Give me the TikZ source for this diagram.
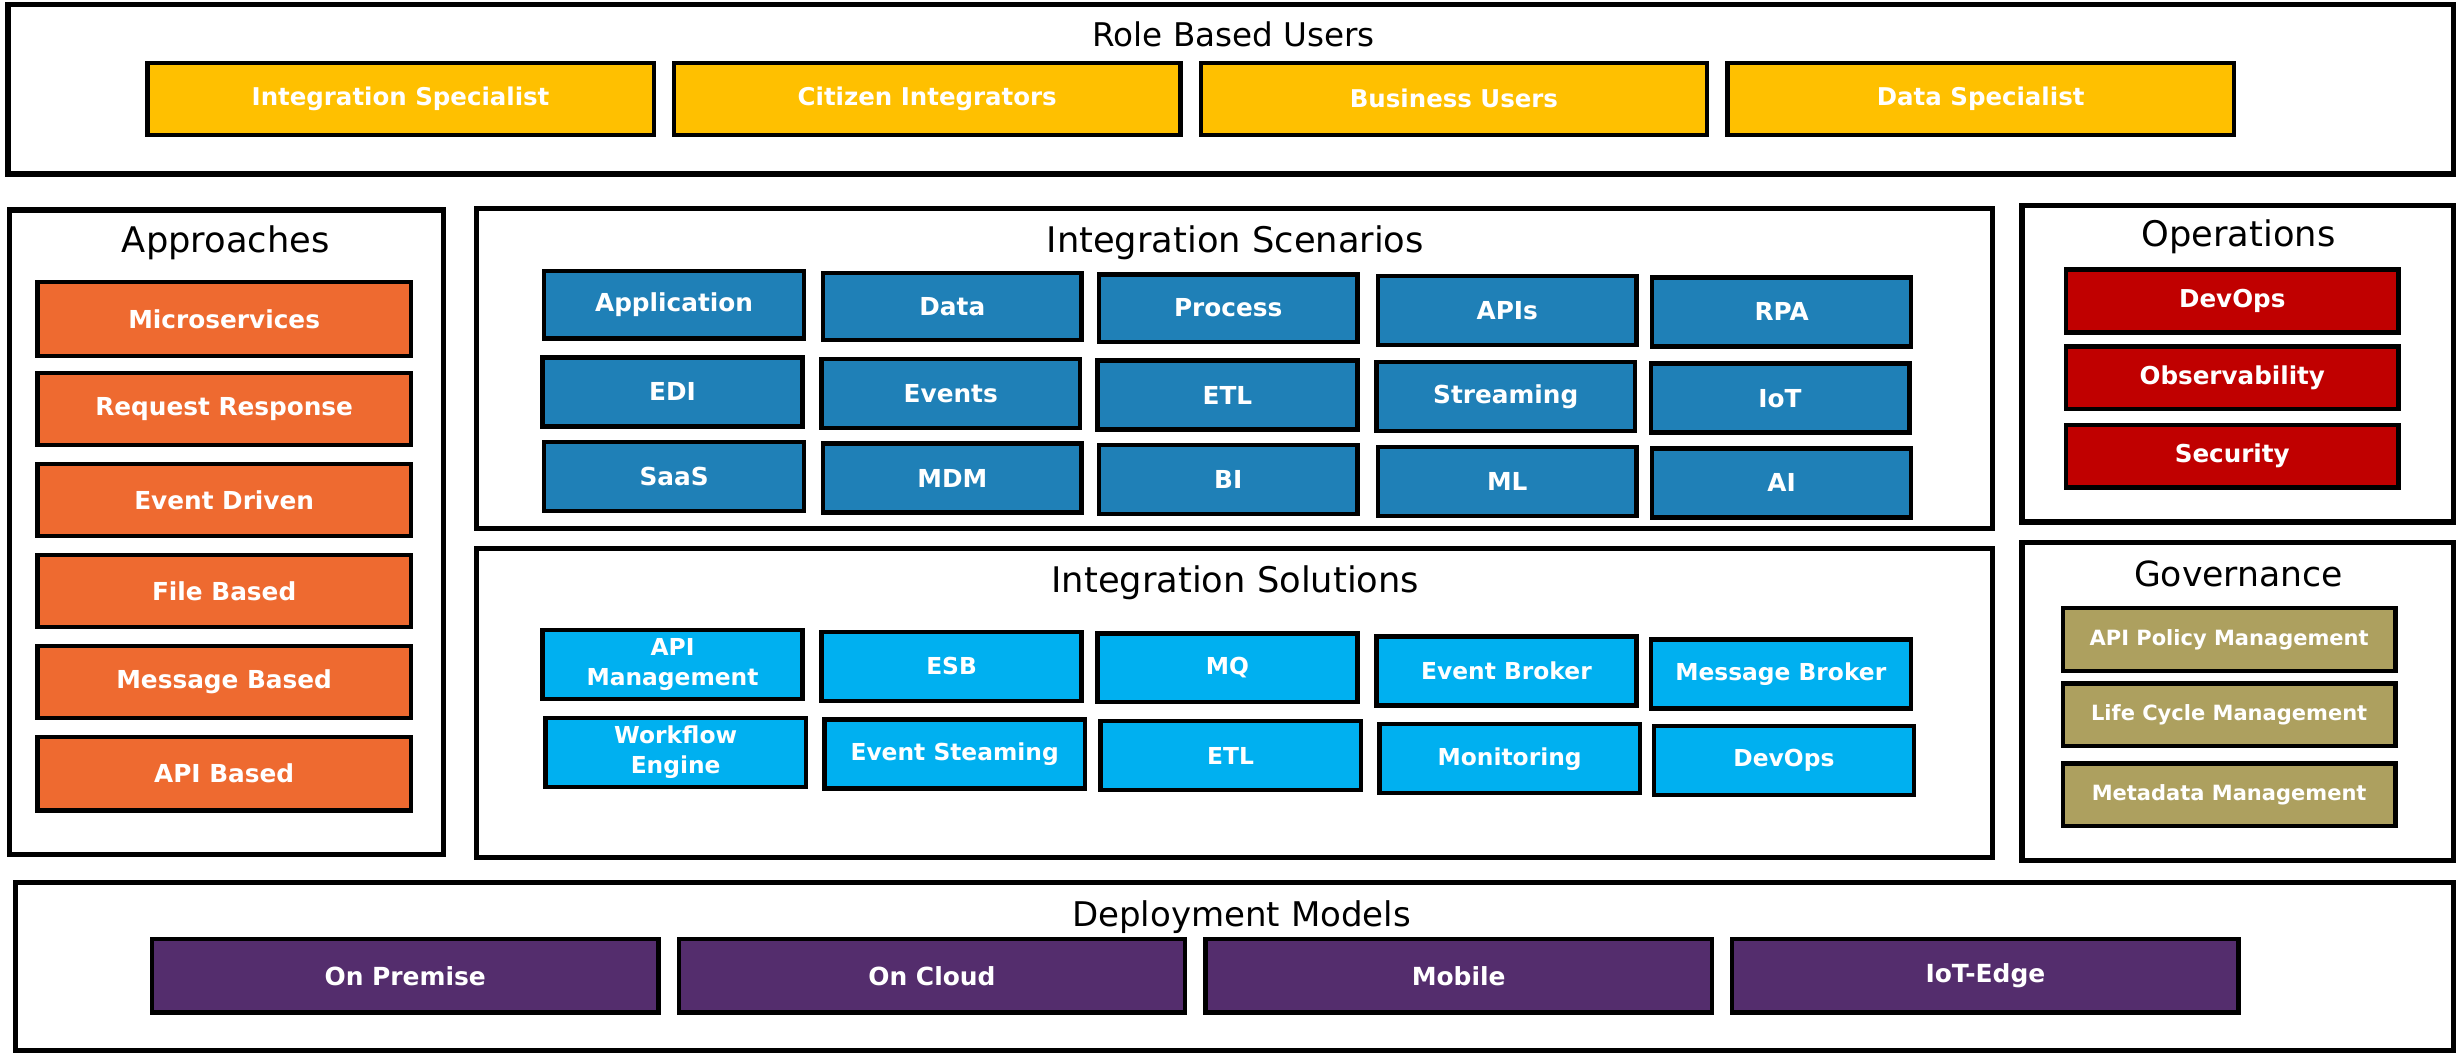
\documentclass[tikz,border=0pt]{standalone}
\usepackage{fontspec}
\setmainfont{DejaVu Sans}
\definecolor{cyell}{HTML}{FFC000}
\definecolor{corange}{HTML}{EE6A30}
\definecolor{cblue}{HTML}{1F80B7}
\definecolor{ccyan}{HTML}{00B0F0}
\definecolor{cred}{HTML}{C00000}
\definecolor{colive}{HTML}{ADA05F}
\definecolor{cpurple}{HTML}{542D6D}
\newcommand\mybox[7]{%
  \pgfmathsetmacro\mbw{#5-#3}%
  \pgfmathsetmacro\mbh{#6-#4}%
  \node[#1, minimum width=\mbw pt, minimum height=\mbh pt] (#2) at ({(#3+#5)/2},{(#4+#6)/2}) {#7};}
\tikzset{
  panel/.style={draw=black, line width=3.5pt, fill=white, inner sep=0pt},
  ttl/.style={font=\fontsize{22.5}{24}\selectfont, text=black, inner sep=0pt},
  item/.style={draw=black, line width=2.8pt, inner sep=0pt, text=white, align=center},
  yel/.style={item, fill=cyell, font=\fontsize{15.6}{18}\selectfont\bfseries},
  ora/.style={item, fill=corange, font=\fontsize{15.8}{18}\selectfont\bfseries},
  blu/.style={item, fill=cblue, font=\fontsize{15.8}{18}\selectfont\bfseries},
  cya/.style={item, fill=ccyan, font=\fontsize{14.9}{19}\selectfont\bfseries},
  redb/.style={item, fill=cred, font=\fontsize{15.7}{18}\selectfont\bfseries},
  oli/.style={item, fill=colive, font=\fontsize{13.4}{16}\selectfont\bfseries},
  pur/.style={item, fill=cpurple, font=\fontsize{15.9}{18}\selectfont\bfseries},
}
\begin{document}
\begin{tikzpicture}[x=1pt,y=-1pt]
\useasboundingbox[fill=white] (0,0) rectangle (1568,672);
% panels
\mybox{panel}{roles}{5}{3}{1565}{111}{}
\mybox{panel}{appr}{6}{134}{283}{545}{}
\mybox{panel}{scen}{304}{133}{1271}{337}{}
\mybox{panel}{sol}{304}{350}{1271}{547}{}
\mybox{panel}{ops}{1290}{131}{1565}{333}{}
\mybox{panel}{gov}{1290}{346}{1565}{549}{}
\mybox{panel}{dep}{10}{563}{1565}{670}{}
% titles
\node[ttl, font=\fontsize{20.8}{24}\selectfont] (troles) at (787,22) {Role Based Users};
\node[ttl] (tappr) at (144,155) {Approaches};
\node[ttl] (tscen) at (788,155) {Integration Scenarios};
\node[ttl] (tsol) at (788,372) {Integration Solutions};
\node[ttl] (tops) at (1428,151) {Operations};
\node[ttl, font=\fontsize{22.1}{24}\selectfont] (tgov) at (1428,366) {Governance};
\node[ttl, font=\fontsize{21.7}{24}\selectfont] (tdep) at (792,585) {Deployment Models};
% role based users
\mybox{yel}{r1}{94}{40}{417}{86}{Integration Specialist}
\mybox{yel}{r2}{430}{40}{753}{86}{Citizen Integrators}
\mybox{yel}{r3}{766}{40}{1089}{86}{Business Users}
\mybox{yel}{r4}{1102}{40}{1425}{86}{Data Specialist}
% approaches
\mybox{ora}{a1}{24}{180}{262}{227}{Microservices}
\mybox{ora}{a2}{24}{238}{262}{284}{Request Response}
\mybox{ora}{a3}{24}{296}{262}{342}{Event Driven}
\mybox{ora}{a4}{24}{354}{262}{400}{File Based}
\mybox{ora}{a5}{24}{412}{262}{458}{Message Based}
\mybox{ora}{a6}{24}{470}{262}{517}{API Based}
% scenarios
\mybox{blu}{s11}{347}{173}{513}{216}{Application}
\mybox{blu}{s12}{525}{174}{690}{217}{Data}
\mybox{blu}{s13}{701}{175}{866}{218}{Process}
\mybox{blu}{s14}{879}{176}{1044}{220}{APIs}
\mybox{blu}{s15}{1054}{177}{1219}{221}{RPA}
\mybox{blu}{s21}{346}{228}{512}{272}{EDI}
\mybox{blu}{s22}{524}{229}{689}{273}{Events}
\mybox{blu}{s23}{700}{230}{866}{274}{ETL}
\mybox{blu}{s24}{878}{231}{1043}{275}{Streaming}
\mybox{blu}{s25}{1053}{232}{1218}{276}{IoT}
\mybox{blu}{s31}{347}{282}{513}{326}{SaaS}
\mybox{blu}{s32}{525}{283}{690}{327}{MDM}
\mybox{blu}{s33}{701}{284}{866}{328}{BI}
\mybox{blu}{s34}{879}{285}{1044}{329}{ML}
\mybox{blu}{s35}{1054}{286}{1219}{330}{AI}
% solutions
\mybox{cya}{u11}{346}{402}{512}{446}{API\\Management}
\mybox{cya}{u12}{524}{403}{690}{447}{ESB}
\mybox{cya}{u13}{700}{404}{866}{448}{MQ}
\mybox{cya}{u14}{878}{406}{1044}{450}{Event Broker}
\mybox{cya}{u15}{1053}{408}{1219}{452}{Message Broker}
\mybox{cya}{u21}{348}{458}{514}{502}{Workflow\\Engine}
\mybox{cya}{u22}{526}{459}{692}{503}{Event Steaming}
\mybox{cya}{u23}{702}{460}{868}{504}{ETL}
\mybox{cya}{u24}{880}{462}{1046}{506}{Monitoring}
\mybox{cya}{u25}{1055}{463}{1221}{507}{DevOps}
% operations
\mybox{redb}{o1}{1318}{172}{1530}{212}{DevOps}
\mybox{redb}{o2}{1318}{221}{1530}{261}{Observability}
\mybox{redb}{o3}{1318}{271}{1530}{311}{Security}
% governance
\mybox{oli}{g1}{1316}{388}{1528}{428}{API Policy Management}
\mybox{oli}{g2}{1316}{436}{1528}{476}{Life Cycle Management}
\mybox{oli}{g3}{1316}{487}{1528}{527}{Metadata Management}
% deployment
\mybox{pur}{d1}{97}{599}{420}{646}{On Premise}
\mybox{pur}{d2}{433}{599}{756}{646}{On Cloud}
\mybox{pur}{d3}{769}{599}{1092}{646}{Mobile}
\mybox{pur}{d4}{1105}{599}{1428}{646}{IoT-Edge}
\end{tikzpicture}
\end{document}
